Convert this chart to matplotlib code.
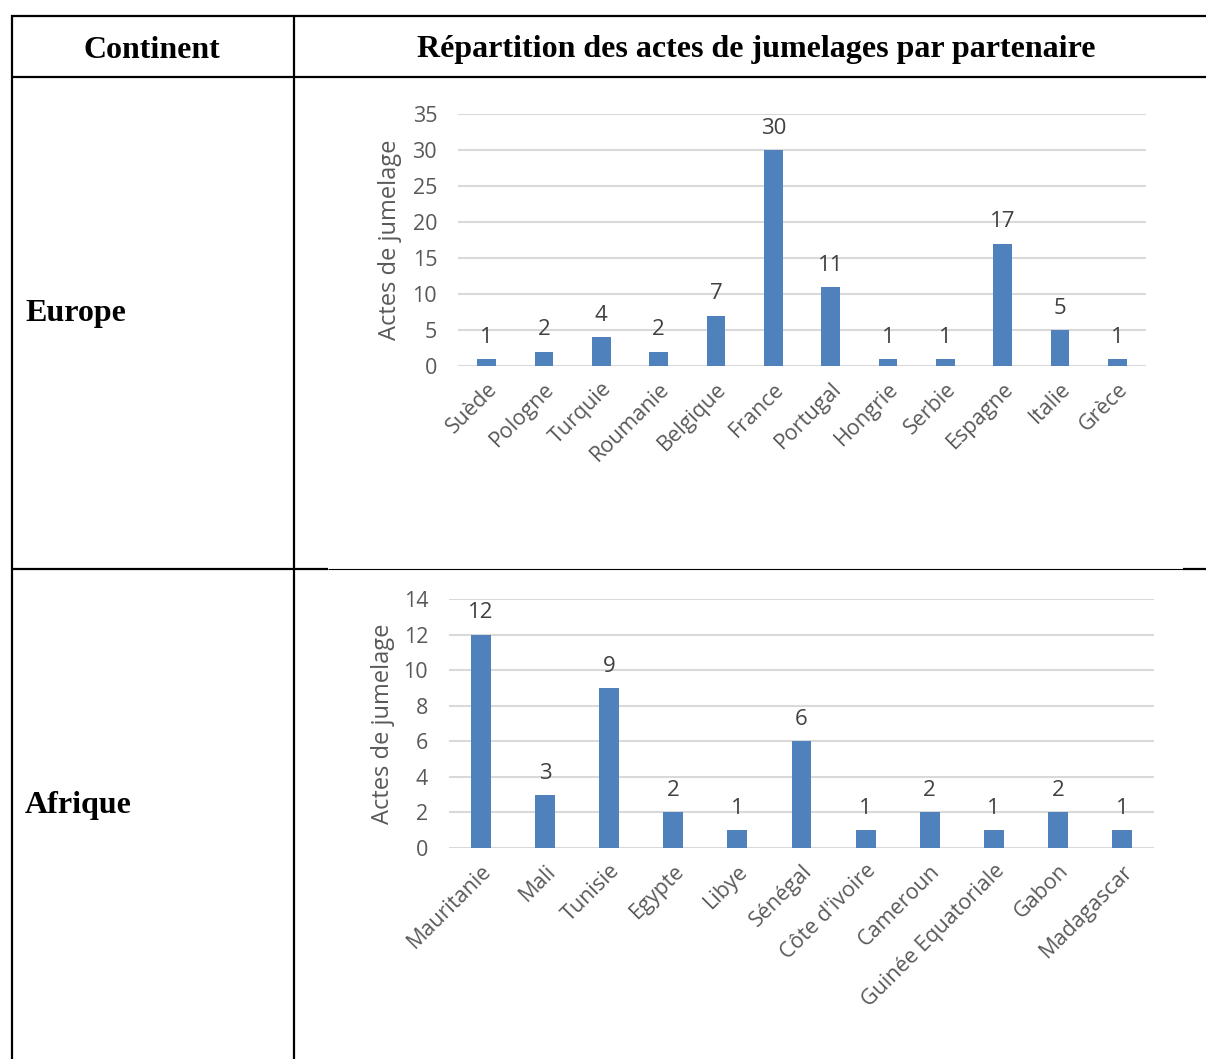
import matplotlib
matplotlib.use("Agg")
import matplotlib.pyplot as plt
from matplotlib.lines import Line2D

W, H = 1206, 1059

europe_countries = ["Suède", "Pologne", "Turquie", "Roumanie", "Belgique", "France",
                    "Portugal", "Hongrie", "Serbie", "Espagne", "Italie", "Grèce"]
europe_values = [1, 2, 4, 2, 7, 30, 11, 1, 1, 17, 5, 1]
europe_yticks = [0, 5, 10, 15, 20, 25, 30, 35]

africa_countries = ["Mauritanie", "Mali", "Tunisie", "Egypte", "Libye", "Sénégal",
                    "Côte d'ivoire", "Cameroun", "Guinée Equatoriale", "Gabon", "Madagascar"]
africa_values = [12, 3, 9, 2, 1, 6, 1, 2, 1, 2, 1]
africa_yticks = [0, 2, 4, 6, 8, 10, 12, 14]

header_left = "Continent"
header_right = "Répartition des actes de jumelages par partenaire"
row_labels = ["Europe", "Afrique"]
ylabel = "Actes de jumelage"

BAR = "#4f81bd"
GRID = "#d9d9d9"
TXT = "#595959"
LBL = "#404040"
CHART_FONT = "Open Sans"
SERIF = "Liberation Serif"

fig = plt.figure(figsize=(W / 100, H / 100), dpi=100)
fig.patch.set_facecolor("white")


def fx(x):
    return x / W


def fy(y):
    return 1 - y / H


def hline(x0, x1, y, lw):
    fig.add_artist(Line2D([fx(x0), fx(x1)], [fy(y), fy(y)], color="black", lw=lw,
                          transform=fig.transFigure, solid_capstyle="butt"))


def vline(x, y0, y1, lw):
    fig.add_artist(Line2D([fx(x), fx(x)], [fy(y0), fy(y1)], color="black", lw=lw,
                          transform=fig.transFigure, solid_capstyle="butt"))


# table borders
hline(11, 1206, 15.5, 1.6)
hline(11, 1206, 76.5, 1.6)
hline(11, 328, 569, 1.6)
hline(328, 1183, 569, 0.8)
hline(1183, 1206, 569, 1.6)
vline(11.5, 15, 1059, 1.6)
vline(294, 15, 1059, 1.6)

HS = 23
fig.text(fx(152), fy(50), header_left, family=SERIF, weight="bold", fontsize=HS,
         ha="center", va="center")
fig.text(fx(756), fy(50), header_right, family=SERIF, weight="bold", fontsize=HS,
         ha="center", va="center")
fig.text(fx(25), fy(314), row_labels[0], family=SERIF, weight="bold", fontsize=HS,
         ha="left", va="center")
fig.text(fx(25), fy(805), row_labels[1], family=SERIF, weight="bold", fontsize=HS,
         ha="left", va="center")

TS = 15.5


def chart(x0, x1, ybot, ytop, cats, vals, yticks, bw, ylab_x):
    ax = fig.add_axes([fx(x0), fy(ybot), (x1 - x0) / W, (ybot - ytop) / H])
    n = len(cats)
    xs = list(range(n))
    bars = ax.bar(xs, vals, width=bw, color=BAR, zorder=3)
    ax.set_xlim(-0.5, n - 0.5)
    ax.set_ylim(yticks[0], yticks[-1])
    ax.set_yticks(yticks)
    ax.yaxis.grid(True, color=GRID, lw=1.5, zorder=0)
    ax.set_axisbelow(True)
    for s in ax.spines.values():
        s.set_visible(False)
    ax.tick_params(axis="both", length=0, colors=TXT, labelsize=TS)
    ax.tick_params(axis="y", pad=15)
    ax.set_xticks(xs)
    ax.set_xticklabels(cats, rotation=45, ha="right", rotation_mode="anchor",
                       family=CHART_FONT, fontsize=TS, color=TXT)
    for t in ax.get_yticklabels():
        t.set_family(CHART_FONT)
    ax.tick_params(axis="x", pad=9)
    ax.bar_label(bars, padding=8, color=LBL, fontsize=16, family=CHART_FONT)
    ax.set_ylabel(ylabel, family=CHART_FONT, fontsize=17, color=TXT)
    ax.yaxis.set_label_coords((ylab_x - x0) / (x1 - x0), 0.5)
    return ax


chart(458, 1146, 366, 114, europe_countries, europe_values, europe_yticks, 0.33, 402)
chart(449, 1154, 848, 599, africa_countries, africa_values, africa_yticks, 0.31, 395)

fig.savefig("out.png", dpi=100, facecolor="white")
